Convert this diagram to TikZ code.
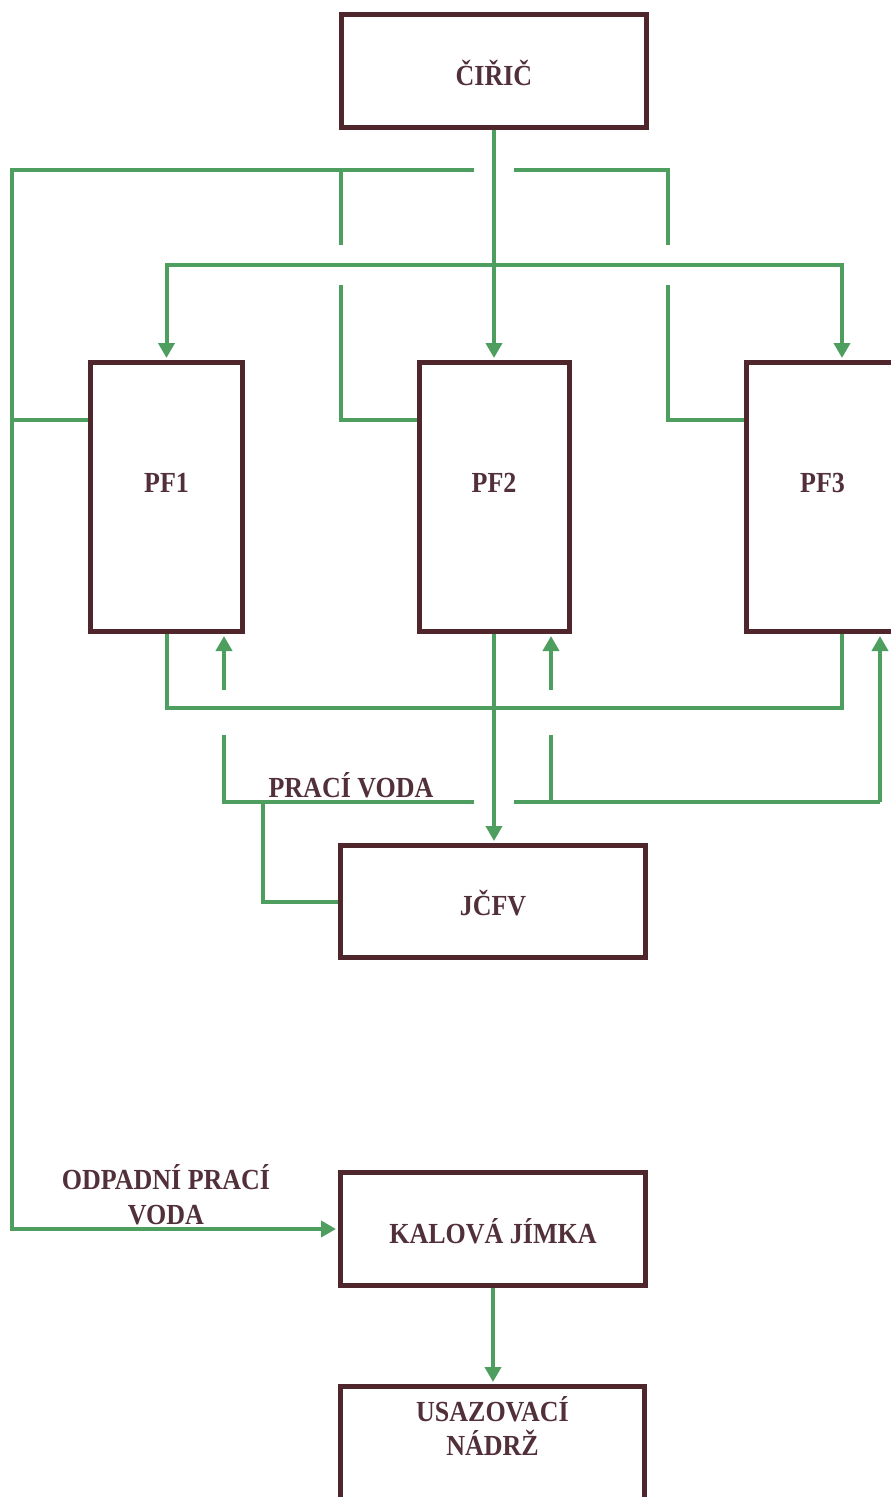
\documentclass[tikz,border=0pt]{standalone}
\usepackage{fontspec}
\setmainfont{Liberation Serif}
\usetikzlibrary{arrows.meta}
\definecolor{pipec}{RGB}{78,158,96}
\definecolor{boxc}{RGB}{78,38,44}
\definecolor{txtc}{RGB}{82,48,58}
\begin{document}
\begin{tikzpicture}[x=1pt,y=-1pt,
  blk/.style={draw=boxc,line width=5pt,fill=white,inner sep=0pt},
  txt/.style={font=\fontsize{26}{31}\selectfont\bfseries,text=txtc,align=center,inner sep=0pt,yscale=1.12},
  pipe/.style={draw=pipec,line width=4pt,line join=miter},
  arr/.style={pipe,-{Triangle[length=15pt,width=16pt]},shorten >=2pt}]
\useasboundingbox (0,0) rectangle (891,1497);
\clip (0,0) rectangle (891,1497);
\fill[white] (0,0) rectangle (891,1497);

% boxes
\node[blk,minimum width=305pt,minimum height=113pt] (ciric) at (494,71) {};
\node[txt] (ciricT) at (494,73) {ČIŘIČ};
\node[blk,minimum width=152pt,minimum height=269pt] (pf1) at (166.5,497) {};
\node[blk,minimum width=150pt,minimum height=269pt] (pf2) at (494,497) {};
\node[blk,minimum width=152pt,minimum height=269pt] (pf3) at (822.5,497) {};
\node[txt] (pf1T) at (166.5,483) {PF1};
\node[txt] (pf2T) at (494,483) {PF2};
\node[txt] (pf3T) at (822.5,483) {PF3};
\node[blk,minimum width=305pt,minimum height=112pt] (jcfv) at (493,901.5) {};
\node[txt] (jcfvT) at (493,903) {JČFV};
\node[blk,minimum width=305pt,minimum height=113pt] (kal) at (493,1229) {};
\node[txt] (kalT) at (493,1231) {KALOVÁ JÍMKA};
\node[blk,minimum width=304pt,minimum height=130pt] (usaz) at (492.5,1451.5) {};
\node[txt] (usazT) at (492.5,1426) {USAZOVACÍ\\NÁDRŽ};

% labels
\node[txt] (pvT) at (351,785) {PRACÍ VODA};
\node[txt] (opvT) at (166,1195) {ODPADNÍ PRACÍ\\VODA};

% helper coordinates
\coordinate (jtop) at (494,265);
\coordinate (tl) at (12,170);
\coordinate (gapL) at (474,170);
\coordinate (gapR) at (514,170);
\coordinate (c2a) at (341,170);
\coordinate (c2b) at (341,245);
\coordinate (c2c) at (341,285);
\coordinate (c3a) at (668,245);
\coordinate (c3b) at (668,285);
\coordinate (wy) at (0,420);
\coordinate (f3) at (842,708);
\coordinate (w1a) at (224,802);
\coordinate (w1b) at (224,735);
\coordinate (w1c) at (224,690);
\coordinate (w2a) at (551,802);
\coordinate (w2b) at (551,735);
\coordinate (w2c) at (551,690);
\coordinate (w3) at (880,802);
\coordinate (wgL) at (474,802);
\coordinate (wgR) at (514,802);
\coordinate (wj) at (263,802);

% feed from clarifier
\draw[arr] (ciric.south) -- (pf2.north);
\draw[arr] (jtop) -| (pf1.north);
\draw[arr] (jtop) -| ([xshift=19.5pt]pf3.north);

% waste wash water collection
\draw[pipe] (pf1.west |- wy) -- (tl |- wy);
\draw[arr] (gapL) -- (tl) |- (kal.west);
\draw[pipe] (c2a) -- (c2b);
\draw[pipe] (c2c) |- (pf2.west |- wy);
\draw[pipe] (gapR) -| (c3a);
\draw[pipe] (c3b) |- (pf3.west |- wy);

% filtrate
\draw[pipe] (pf1.south) |- (f3) -- (f3 |- pf3.south);
\draw[arr] (pf2.south) -- (pf2.south |- jcfv.north);

% wash water
\draw[pipe] (jcfv.west) -| (wj);
\draw[pipe] (wgL) -- (w1a) -- (w1b);
\draw[arr] (w1c) -- (w1c |- pf1.south);
\draw[pipe] (wgR) -- (w3);
\draw[arr] (w3) -- (w3 |- pf3.south);
\draw[pipe] (w2a) -- (w2b);
\draw[arr] (w2c) -- (w2c |- pf2.south);

% to settling tank
\draw[arr] (kal.south) -- (kal.south |- usaz.north);
\end{tikzpicture}
\end{document}
